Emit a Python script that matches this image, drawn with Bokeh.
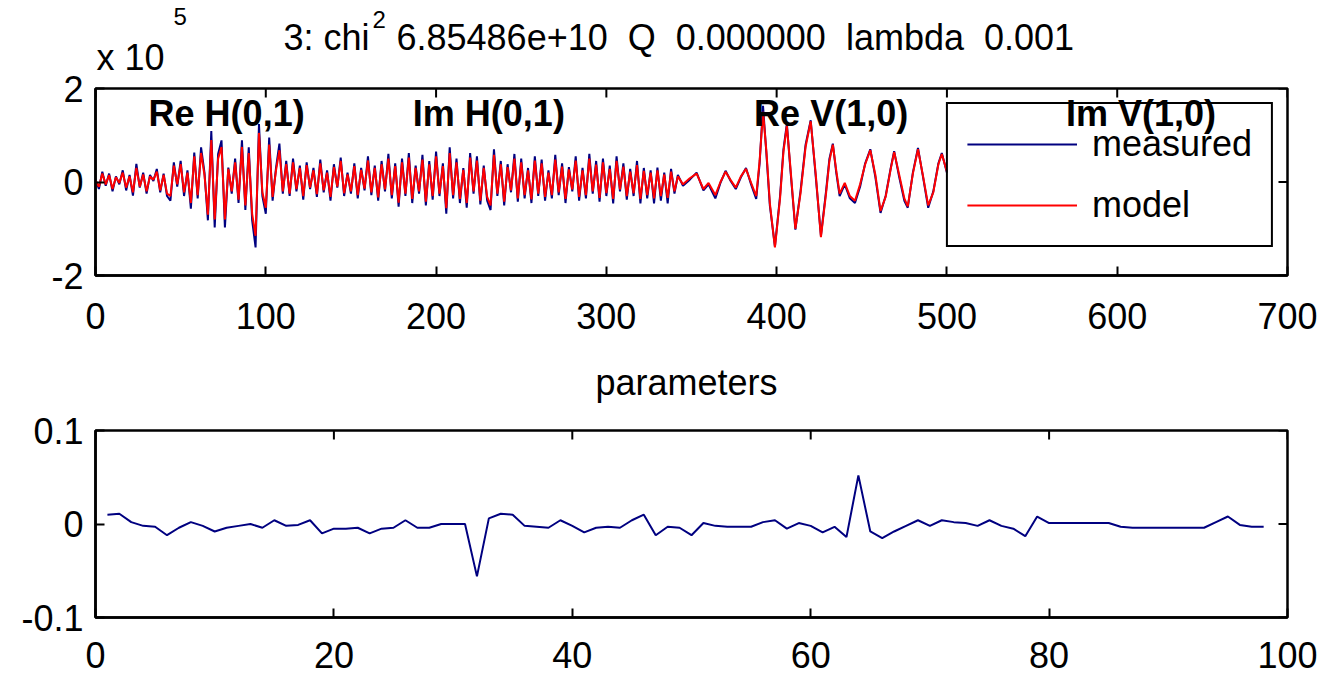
from bokeh.plotting import figure
from bokeh.models import Range1d, FixedTicker, Label
from bokeh.core.properties import value
from bokeh.layouts import column
from bokeh.embed import file_html
from bokeh.resources import INLINE

# ---------------- data (top panel, units of 1e5) ----------------
noisy_x = list(range(0, 341, 2))
noisy_measured = [
    0.05, -0.15, 0.22, -0.08, 0.18, -0.20, 0.12, -0.05, 0.25, -0.18,
    0.15, -0.29, 0.39, -0.12, 0.20, -0.25, 0.15, 0.02, 0.28, -0.22,
    0.18, -0.30, -0.40, 0.42, -0.10, 0.45, -0.30, 0.25, -0.57, 0.63,
    -0.35, 0.74, 0.20, -0.82, 1.09, -0.97, 0.60, 0.89, -0.97, 0.31,
    -0.25, 0.50, -0.45, 0.89, -0.60, 0.74, -0.82, -1.40, 1.24, -0.30,
    -0.68, 0.95, -0.40, 0.30, 0.82, -0.25, 0.45, -0.30, 0.50, -0.20,
    0.35, -0.38, 0.42, -0.15, 0.30, -0.32, 0.48, -0.22, 0.25, -0.40,
    0.38, -0.12, 0.52, -0.30, 0.20, -0.25, 0.40, -0.35, 0.30, -0.18,
    0.55, -0.28, 0.35, -0.40, 0.45, -0.20, 0.60, -0.35, 0.40, -0.53,
    0.50, -0.30, 0.62, -0.45, 0.35, -0.25, 0.58, -0.50, 0.45, -0.38,
    0.65, -0.30, 0.40, -0.68, 0.74, -0.35, 0.50, -0.45, 0.30, -0.55,
    0.62, -0.25, 0.55, -0.48, 0.35, -0.40, -0.60, 0.70, -0.30, 0.45,
    -0.50, 0.38, -0.22, 0.60, -0.42, 0.50, -0.35, 0.30, -0.45, 0.55,
    -0.30, 0.48, -0.40, 0.25, -0.35, 0.58, -0.28, 0.40, -0.45, 0.32,
    -0.20, 0.55, -0.40, 0.30, -0.35, 0.60, -0.25, 0.45, -0.42, 0.50,
    -0.30, 0.35, -0.46, 0.55, -0.20, 0.40, -0.38, 0.28, -0.30, 0.45,
    -0.46, 0.30, -0.35, 0.25, -0.46, 0.31, -0.40, 0.20, -0.46, 0.28,
    -0.25,
]
noisy_model = [
    0.03, -0.10, 0.18, -0.05, 0.15, -0.15, 0.10, -0.02, 0.20, -0.12,
    0.12, -0.22, 0.30, -0.10, 0.16, -0.20, 0.12, 0.05, 0.22, -0.18,
    0.15, -0.25, -0.30, 0.35, -0.05, 0.38, -0.22, 0.20, -0.45, 0.55,
    -0.28, 0.62, 0.15, -0.70, 0.90, -0.80, 0.50, 0.75, -0.80, 0.28,
    -0.20, 0.42, -0.38, 0.75, -0.50, 0.62, -0.68, -1.15, 1.05, -0.22,
    -0.55, 0.80, -0.32, 0.25, 0.68, -0.20, 0.38, -0.25, 0.42, -0.15,
    0.30, -0.30, 0.36, -0.12, 0.25, -0.26, 0.40, -0.18, 0.20, -0.32,
    0.32, -0.10, 0.45, -0.24, 0.16, -0.20, 0.34, -0.28, 0.26, -0.14,
    0.46, -0.22, 0.30, -0.33, 0.38, -0.16, 0.50, -0.28, 0.34, -0.44,
    0.42, -0.25, 0.52, -0.36, 0.30, -0.20, 0.48, -0.42, 0.38, -0.30,
    0.55, -0.25, 0.34, -0.56, 0.62, -0.28, 0.42, -0.36, 0.26, -0.45,
    0.52, -0.20, 0.46, -0.40, 0.30, -0.32, -0.50, 0.58, -0.25, 0.38,
    -0.42, 0.32, -0.18, 0.50, -0.35, 0.42, -0.28, 0.25, -0.37, 0.46,
    -0.25, 0.40, -0.32, 0.20, -0.28, 0.48, -0.22, 0.33, -0.36, 0.27,
    -0.16, 0.46, -0.32, 0.25, -0.28, 0.50, -0.20, 0.37, -0.34, 0.42,
    -0.24, 0.28, -0.36, 0.45, -0.16, 0.33, -0.30, 0.22, -0.24, 0.36,
    -0.36, 0.24, -0.28, 0.20, -0.35, 0.25, -0.30, 0.16, -0.34, 0.22,
    -0.20,
]
wave_x = [
    342, 345, 349, 353, 357, 360, 364, 367, 370, 373,
    376, 379, 382, 385, 388, 390, 392, 394, 396, 399,
    402, 404, 406, 408, 411, 414, 417, 420, 423, 426,
    429, 431, 433, 435, 437, 440, 443, 446, 449, 452,
    455, 458, 461, 464, 467, 469, 472, 475, 477, 480,
    483, 486, 489, 492, 495, 497, 500,
]
wave_measured = [
    0.15, -0.08, 0.05, 0.20, -0.18, -0.05, -0.35, -0.02, 0.24, 0.02,
    -0.15, 0.10, 0.30, -0.05, -0.36, 0.40, 1.63, 0.60, -0.50, -1.38,
    -0.30, 0.70, 1.25, 0.30, -1.02, -0.20, 0.80, 1.32, 0.10, -1.15,
    -0.20, 0.50, 0.82, 0.20, -0.30, -0.05, -0.35, -0.45, -0.10, 0.40,
    0.70, 0.10, -0.66, -0.30, 0.30, 0.66, 0.10, -0.40, -0.55, 0.20,
    0.73, 0.10, -0.55, -0.20, 0.40, 0.62, 0.20,
]
wave_model = [
    0.12, -0.05, 0.08, 0.18, -0.15, -0.02, -0.28, 0.00, 0.22, 0.04,
    -0.12, 0.12, 0.28, -0.02, -0.30, 0.45, 1.50, 0.65, -0.45, -1.40,
    -0.35, 0.65, 1.20, 0.35, -1.00, -0.25, 0.75, 1.30, 0.15, -1.18,
    -0.25, 0.45, 0.80, 0.25, -0.25, -0.02, -0.30, -0.40, -0.05, 0.38,
    0.68, 0.15, -0.62, -0.32, 0.28, 0.64, 0.15, -0.35, -0.52, 0.18,
    0.70, 0.12, -0.50, -0.22, 0.38, 0.60, 0.22,
]
top_x = noisy_x + wave_x
measured = noisy_measured + wave_measured
model = noisy_model + wave_model

segment_names = ["Re H(0,1)", "Im H(0,1)", "Re V(1,0)", "Im V(1,0)"]
segment_centers = [77, 231, 432, 614]

top_xticks = [0, 100, 200, 300, 400, 500, 600, 700]
top_yticks = [-2, 0, 2]

# ---------------- data (bottom panel) ----------------
param_index = list(range(1, 99))
param_values = [
    0.010, 0.011, 0.002, -0.002, -0.003, -0.012, -0.004, 0.002, -0.002, -0.008,
    -0.004, -0.002, 0.000, -0.004, 0.004, -0.002, -0.001, 0.004, -0.010, -0.005,
    -0.005, -0.004, -0.010, -0.005, -0.004, 0.004, -0.004, -0.004, 0.000, 0.000,
    0.000, -0.056, 0.006, 0.011, 0.010, -0.002, -0.003, -0.004, 0.004, -0.002,
    -0.009, -0.004, -0.003, -0.004, 0.004, 0.010, -0.012, -0.003, -0.004, -0.012,
    0.001, -0.002, -0.003, -0.003, -0.003, 0.002, 0.004, -0.005, 0.001, -0.002,
    -0.009, -0.003, -0.014, 0.052, -0.008, -0.015, -0.008, -0.002, 0.004, -0.002,
    0.004, 0.002, 0.001, -0.002, 0.004, -0.002, -0.005, -0.013, 0.008, 0.001,
    0.001, 0.001, 0.001, 0.001, 0.001, -0.003, -0.004, -0.004, -0.004, -0.004,
    -0.004, -0.004, -0.004, 0.002, 0.008, -0.001, -0.003, -0.003,
]
bottom_xticks = [0, 20, 40, 60, 80, 100]
bottom_yticks = [-0.1, 0, 0.1]

title_main = "3: chi"
title_sup = "2"
title_rest = "6.85486e+10\u00a0 Q\u00a0 0.000000\u00a0 lambda\u00a0 0.001"
exp_base = "x 10"
exp_sup = "5"
bottom_title = "parameters"

FONT = "Liberation Sans"
FS = "36px"
SUP_FS = "24px"
NAVY = "#000080"
RED = "#ff0000"
W = 1321
FRAME_L = 95
FRAME_R = 1287
FRAME_W = FRAME_R - FRAME_L
FRAME_H = 187
TICK = 9
OVERLAP = 28


def style_axes(p, xr, yr, xticks, yticks, yover, xstandoff):
    p.xgrid.visible = False
    p.ygrid.visible = False
    p.outline_line_color = "black"
    p.outline_line_width = 2.5
    for ax in p.xaxis + p.yaxis:
        ax.axis_line_width = 2.5
        ax.major_tick_in = TICK
        ax.major_tick_out = 0
        ax.major_tick_line_width = 2
        ax.minor_tick_line_color = None
        ax.major_label_text_font = FONT
        ax.major_label_text_font_size = FS
        ax.major_label_text_color = "black"
    p.xaxis.ticker = FixedTicker(ticks=xticks)
    p.yaxis.ticker = FixedTicker(ticks=yticks)
    p.xaxis.major_label_standoff = xstandoff
    p.yaxis.major_label_standoff = 12
    p.yaxis.major_label_overrides = yover
    # mirrored inward ticks on top and right edges (scaled from the axis ranges)
    dy = TICK * (yr[1] - yr[0]) / FRAME_H
    dx = TICK * (xr[1] - xr[0]) / FRAME_W
    p.segment(x0=xticks, y0=[yr[1]] * len(xticks), x1=xticks, y1=[yr[1] - dy] * len(xticks),
              line_color="black", line_width=2)
    p.segment(x0=[xr[1]] * len(yticks), y0=yticks, x1=[xr[1] - dx] * len(yticks), y1=yticks,
              line_color="black", line_width=2)


def header(height):
    # text strip; its frame is aligned with the plot frames below (page x = data x)
    h = figure(width=W, height=height, output_backend="svg", toolbar_location=None,
               x_range=Range1d(FRAME_L, FRAME_R), y_range=Range1d(height, 0),
               x_axis_location=None, y_axis_location=None, min_border=0)
    h.outline_line_color = None
    h.grid.visible = False
    return h


def put(h, xs, ys, texts, size, align="left"):
    h.text(x=xs, y=ys, text=texts, text_font=value(FONT), text_font_size=value(size),
           text_baseline="alphabetic", text_align=align, text_color="black")


# ---------------- header above top panel ----------------
h1 = header(88)
put(h1, [283, 96], [37, 57], [title_main, exp_base], FS)
put(h1, [372, 173], [19, 16], [title_sup, exp_sup], SUP_FS)
put(h1, [396], [37], [title_rest], FS)

# ---------------- top figure (slides up under the header strip) ----------------
xr1, yr1 = (0, 700), (-2, 2)
p1 = figure(width=W, height=280, output_backend="svg", toolbar_location=None,
            x_range=Range1d(*xr1), y_range=Range1d(*yr1),
            min_border_left=95, min_border_right=34, min_border_top=OVERLAP,
            min_border_bottom=65, margin=(-OVERLAP, 0, 0, 0))
p1.border_fill_color = None
p1.background_fill_color = "white"
p1.line(top_x, measured, line_color=NAVY, line_width=2, legend_label="measured")
p1.line(top_x, model, line_color=RED, line_width=2, legend_label="model")
style_axes(p1, xr1, yr1, top_xticks, top_yticks, {-2: "-2", 0: "0", 2: "2"}, 27)

lg = p1.legend[0]
lg.location = "top_right"
lg.margin = 14
lg.padding = 19
lg.spacing = 19
lg.glyph_width = 110
lg.glyph_height = 42
lg.label_standoff = 15
lg.label_text_font = FONT
lg.label_text_font_size = FS
lg.label_text_color = "black"
lg.border_line_color = "black"
lg.border_line_alpha = 1.0
lg.border_line_width = 2
lg.background_fill_alpha = 0.0

for name, cx in zip(segment_names, segment_centers):
    p1.add_layout(Label(x=cx, y=1.46, text=name, text_align="center",
                        text_baseline="alphabetic", text_font=FONT, text_color="black",
                        text_font_size=FS, text_font_style="bold"))

# ---------------- header above bottom panel ----------------
h2 = header(70)
put(h2, [686], [42], [bottom_title], FS, align="center")

# ---------------- bottom figure ----------------
xr2, yr2 = (0, 100), (-0.1, 0.1)
p2 = figure(width=W, height=269, output_backend="svg", toolbar_location=None,
            x_range=Range1d(*xr2), y_range=Range1d(*yr2),
            min_border_left=95, min_border_right=34, min_border_top=20, min_border_bottom=62)
p2.line(param_index, param_values, line_color=NAVY, line_width=2)
style_axes(p2, xr2, yr2, bottom_xticks, bottom_yticks, {-0.1: "-0.1", 0: "0", 0.1: "0.1"}, 24)

layout = column(h1, p1, h2, p2, spacing=0)
open("out.html", "w").write(file_html(layout, INLINE))
